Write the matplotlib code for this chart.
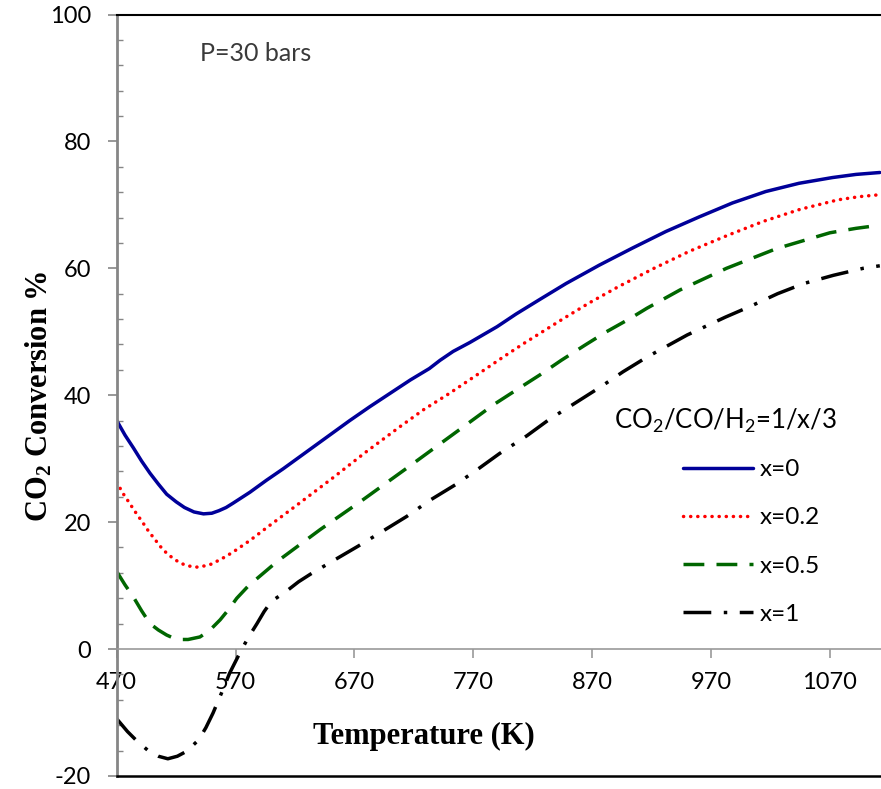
import matplotlib
matplotlib.use("Agg")
import matplotlib.pyplot as plt
from matplotlib.ticker import MultipleLocator, FixedLocator

plt.rcParams['mathtext.default'] = 'regular'

# ---------------- data ----------------
T_x0 = [470, 477, 484, 491, 498, 505, 512, 520, 527, 535, 543, 550, 556, 562, 568,
        582, 596, 610, 624, 638, 652, 666, 683, 700, 717, 733, 742, 753, 767, 790,
        806, 826, 848, 876, 904, 932, 960, 988, 1016, 1044, 1072, 1092, 1112]
y_x0 = [36.0, 33.7, 31.7, 29.6, 27.7, 26.0, 24.4, 23.2, 22.3, 21.6, 21.3, 21.4, 21.8, 22.3, 23.0,
        24.7, 26.6, 28.4, 30.3, 32.2, 34.1, 36.0, 38.2, 40.3, 42.4, 44.2, 45.5, 46.9, 48.3, 50.8,
        52.8, 55.1, 57.6, 60.5, 63.2, 65.8, 68.1, 70.3, 72.1, 73.4, 74.3, 74.8, 75.1]

T_x02 = [470, 475, 480, 486, 492, 497, 502, 507, 512, 518, 524, 530, 537, 544, 550, 555,
         561, 568, 582, 596, 621, 652, 680, 708, 728, 750, 773, 795, 812, 829, 846, 868,
         892, 922, 952, 984, 1014, 1045, 1077, 1095, 1112]
y_x02 = [26.3, 24.6, 23.2, 21.5, 19.9, 18.5, 17.3, 16.1, 15.1, 14.2, 13.5, 13.1, 12.9, 13.1, 13.4, 13.9,
         14.5, 15.3, 17.1, 19.1, 22.6, 27.0, 31.1, 35.0, 37.7, 40.3, 43.2, 46.0, 48.1, 50.1, 52.1, 54.6,
         57.1, 60.0, 62.7, 65.2, 67.4, 69.3, 70.8, 71.3, 71.6]

T_x05 = [470, 477, 484, 491, 498, 505, 512, 518, 523, 530, 540, 548, 557, 564, 571, 580,
         588, 605, 641, 677, 714, 752, 787, 806, 826, 844, 864, 882, 902, 916, 944, 983,
         1025, 1070, 1092, 1112]
y_x05 = [12.2, 10.1, 8.2, 6.0, 4.0, 3.0, 2.2, 1.7, 1.5, 1.5, 1.9, 2.9, 4.6, 6.2, 8.0, 9.8,
         11.1, 13.8, 18.8, 23.5, 28.5, 33.7, 38.5, 40.8, 43.2, 45.5, 47.9, 50.0, 52.1, 53.7, 56.6, 60.0,
         63.1, 65.6, 66.3, 66.8]

T_x1 = [470, 479, 487, 497, 505, 513, 521, 529, 539, 545, 551, 558, 565, 572, 578, 581,
        588, 594, 600, 612, 623, 633, 652, 673, 694, 714, 734, 755, 775, 792, 815, 834,
        856, 877, 896, 916, 950, 982, 1003, 1026, 1048, 1073, 1098, 1112]
y_x1 = [-11.0, -13.0, -14.5, -16.1, -16.9, -17.3, -16.9, -16.1, -14.3, -12.4, -10.1, -7.0, -3.8, -1.2, 0.9, 1.9,
        4.0, 5.9, 7.5, 9.0, 10.6, 11.8, 13.9, 16.2, 18.6, 20.9, 23.5, 25.9, 28.5, 30.8, 33.6, 36.2,
        38.8, 41.3, 43.7, 46.0, 49.5, 52.3, 54.0, 56.0, 57.6, 58.9, 60.0, 60.4]

labels = ['x=0', 'x=0.2', 'x=0.5', 'x=1']
x_ticks = [470, 570, 670, 770, 870, 970, 1070]
y_ticks = [-20, 0, 20, 40, 60, 80, 100]

# ---------------- figure ----------------
fig = plt.figure(figsize=(8.81, 7.89), dpi=100)
ax = fig.add_axes([0.1325, 0.0166, 0.8675, 0.965])

lw = 2.5
l0, = ax.plot(T_x0, y_x0, color='#000099', lw=lw, solid_capstyle='round',
              solid_joinstyle='round', label=labels[0])
l1, = ax.plot(T_x02, y_x02, color='#ff0000', lw=lw, linestyle=(0, (0.05, 2.0)),
              dash_capstyle='round', label=labels[1])
l2, = ax.plot(T_x05, y_x05, color='#006600', lw=lw, linestyle=(0, (6.0, 3.5)),
              dash_capstyle='butt', label=labels[2])
l3, = ax.plot(T_x1, y_x1, color='black', lw=lw, linestyle=(0, (8.0, 3.6, 1.0, 3.6)),
              dash_capstyle='butt', label=labels[3])

ax.set_xlim(470, 1113)
ax.set_ylim(-20, 100)

tick_font = dict(family='Lato', size=17)

# spines
ax.spines['right'].set_visible(False)
ax.spines['top'].set_color('black')
ax.spines['top'].set_linewidth(1.5)
ax.spines['left'].set_color('#868686')
ax.spines['left'].set_linewidth(2.0)
ax.spines['bottom'].set_position(('data', 0))
ax.spines['bottom'].set_color('#9a9a9a')
ax.spines['bottom'].set_linewidth(1.2)
ax.axhline(-20, color='black', lw=1.8, clip_on=False, zorder=5)

ax.xaxis.set_major_locator(FixedLocator(x_ticks))
ax.yaxis.set_major_locator(FixedLocator(y_ticks))
ax.yaxis.set_minor_locator(MultipleLocator(4))
ax.tick_params(axis='x', which='major', direction='out', length=6.5, width=1.2,
               color='#9a9a9a', pad=10)
ax.tick_params(axis='y', which='major', direction='out', length=6.5, width=1.2,
               color='#868686', pad=12)
ax.tick_params(axis='y', which='minor', direction='in', length=4, width=1.0,
               color='#868686')
ax.set_xticklabels([str(t) for t in x_ticks], **tick_font)
ax.set_yticklabels([str(t) for t in y_ticks], **tick_font)

# labels
ax.text(0.402, 0.0524, 'Temperature (K)', transform=ax.transAxes, ha='center', va='center',
        family='Liberation Serif', weight='bold', size=22)
fig.text(0.045, 0.498, 'CO$_2$ Conversion %', rotation=90, ha='center', va='center',
         family='Liberation Serif', weight='bold', size=22)
ax.text(0.109, 0.949, 'P=30 bars', transform=ax.transAxes, ha='left', va='center',
        family='Lato', size=18, color='#3a3a3a')

# legend
ax.text(0.796, 0.466, 'CO$_2$/CO/H$_2$=1/x/3', transform=ax.transAxes, ha='center',
        va='center', family='Lato', size=18.5)
ax.legend(handles=[l0, l1, l2, l3], loc='upper left', bbox_to_anchor=(0.741, 0.416),
          frameon=False, prop=dict(family='Lato', size=17.5), handlelength=2.88,
          handletextpad=0.29, labelspacing=1.12, borderpad=0, borderaxespad=0)

fig.savefig('out.png', dpi=100)
